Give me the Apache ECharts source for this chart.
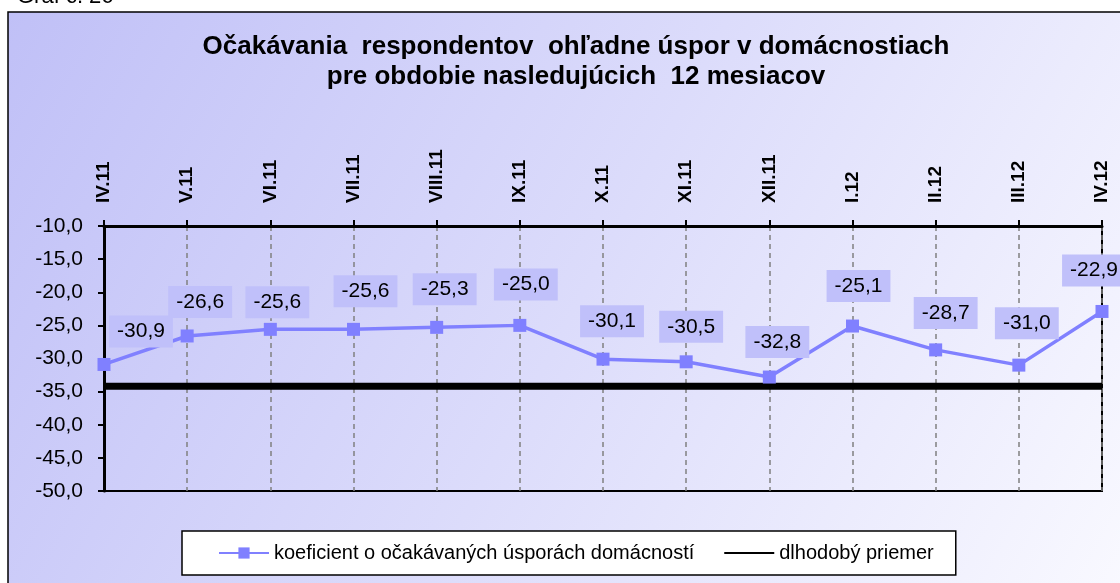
<!DOCTYPE html>
<html>
<head>
<meta charset="utf-8">
<script src="https://cdn.jsdelivr.net/npm/echarts@6/dist/echarts.min.js"></script>
<style>
html,body{margin:0;padding:0;background:#fff;}
#chart{width:1120px;height:583px;}
</style>
</head>
<body>
<div id="chart"></div>
<script>
const categories = ['IV.11','V.11','VI.11','VII.11','VIII.11','IX.11','X.11','XI.11','XII.11','I.12','II.12','III.12','IV.12'];
const koeficient = [-30.9,-26.6,-25.6,-25.6,-25.3,-25.0,-30.1,-30.5,-32.8,-25.1,-28.7,-31.0,-22.9];
const dlhodobyPriemer = [-34.2,-34.2,-34.2,-34.2,-34.2,-34.2,-34.2,-34.2,-34.2,-34.2,-34.2,-34.2,-34.2];
const yTicks = {min:-50, max:-10, step:5};
// data-label nudges (style only), relative to each point
const labelNudge = [[37,-33],[13,-34],[7,-27],[12,-38],[8,-38],[6,-41],[9,-38],[5,-35],[8,-35],[6,-40],[10,-37],[8,-42],[-8,-41]];

const fmt = v => v.toFixed(1).replace('.', ',');

const chart = echarts.init(document.getElementById('chart'), null, {renderer:'canvas'});
chart.setOption({
  animation:false,
  textStyle:{fontFamily:'Liberation Sans, Arial, sans-serif'},
  graphic:[
    {type:'text', left:17, top:-14, z:-20, style:{text:'Graf č. 26', font:'22px "Liberation Sans", Arial', fill:'#000'}},
    {type:'rect', shape:{x:8, y:12, width:1130, height:600}, z:-10, silent:true,
     style:{stroke:'#000', lineWidth:1.5,
       fill:new echarts.graphic.LinearGradient(0,0,1,1,[{offset:0,color:'#c0c0f7'},{offset:0.5,color:'#dcdcfb'},{offset:1,color:'#fafaff'}])}}
  ],
  title:{
    text:'Očakávania  respondentov  ohľadne úspor v domácnostiach\npre obdobie nasledujúcich  12 mesiacov',
    left:571, textAlign:'center', top:27,
    textStyle:{fontSize:26, fontWeight:'bold', color:'#000', lineHeight:30, fontFamily:'Liberation Sans, Arial'}
  },
  legend:{
    left:182, top:531,
    padding:[12,22,12,36],
    itemGap:29, itemWidth:50, itemHeight:14,
    backgroundColor:'#fff', borderColor:'#000', borderWidth:1.5,
    textStyle:{fontSize:20, color:'#000'},
    data:[
      {name:'koeficient o očakávaných úsporách domácností'},
      {name:'dlhodobý priemer', itemStyle:{color:'rgba(0,0,0,0)', borderWidth:0}, lineStyle:{width:2, color:'#000'}}
    ]
  },
  grid:{left:104, right:18, top:226, bottom:92, show:true, borderColor:'#000', borderWidth:2, backgroundColor:'transparent'},
  xAxis:{
    type:'category', position:'top', boundaryGap:false, data:categories,
    axisLine:{lineStyle:{color:'#000', width:3}},
    axisTick:{show:true, length:6, lineStyle:{color:'#000', width:2}},
    axisLabel:{rotate:-90, margin:23, interval:0, fontSize:19, fontWeight:'bold', color:'#000'},
    splitLine:{show:true, lineStyle:{color:'#808080', type:[5,4], width:1.5}}
  },
  yAxis:{
    type:'value', min:yTicks.min, max:yTicks.max, interval:yTicks.step,
    axisLine:{show:true, lineStyle:{color:'#000', width:3}},
    axisTick:{show:true, length:6, lineStyle:{color:'#000', width:2}},
    axisLabel:{margin:21, fontSize:21, color:'#000', formatter:fmt},
    splitLine:{show:false}
  },
  series:[
    {
      name:'dlhodobý priemer', type:'line', data:dlhodobyPriemer, symbol:'none', z:2,
      lineStyle:{color:'#000', width:7}, itemStyle:{color:'#000'}
    },
    {
      name:'koeficient o očakávaných úsporách domácností', type:'line', z:3,
      symbol:'rect', symbolSize:13,
      lineStyle:{color:'#8080ff', width:3.5}, itemStyle:{color:'#8080ff'},
      data:koeficient.map((v,i)=>({value:v, label:{offset:labelNudge[i]}})),
      label:{show:true, position:'inside', fontSize:21, color:'#000',
        backgroundColor:'#c0c0fa', padding:[6,8,5,8],
        formatter:p=>fmt(p.value)}
    }
  ]
});
</script>
</body>
</html>
